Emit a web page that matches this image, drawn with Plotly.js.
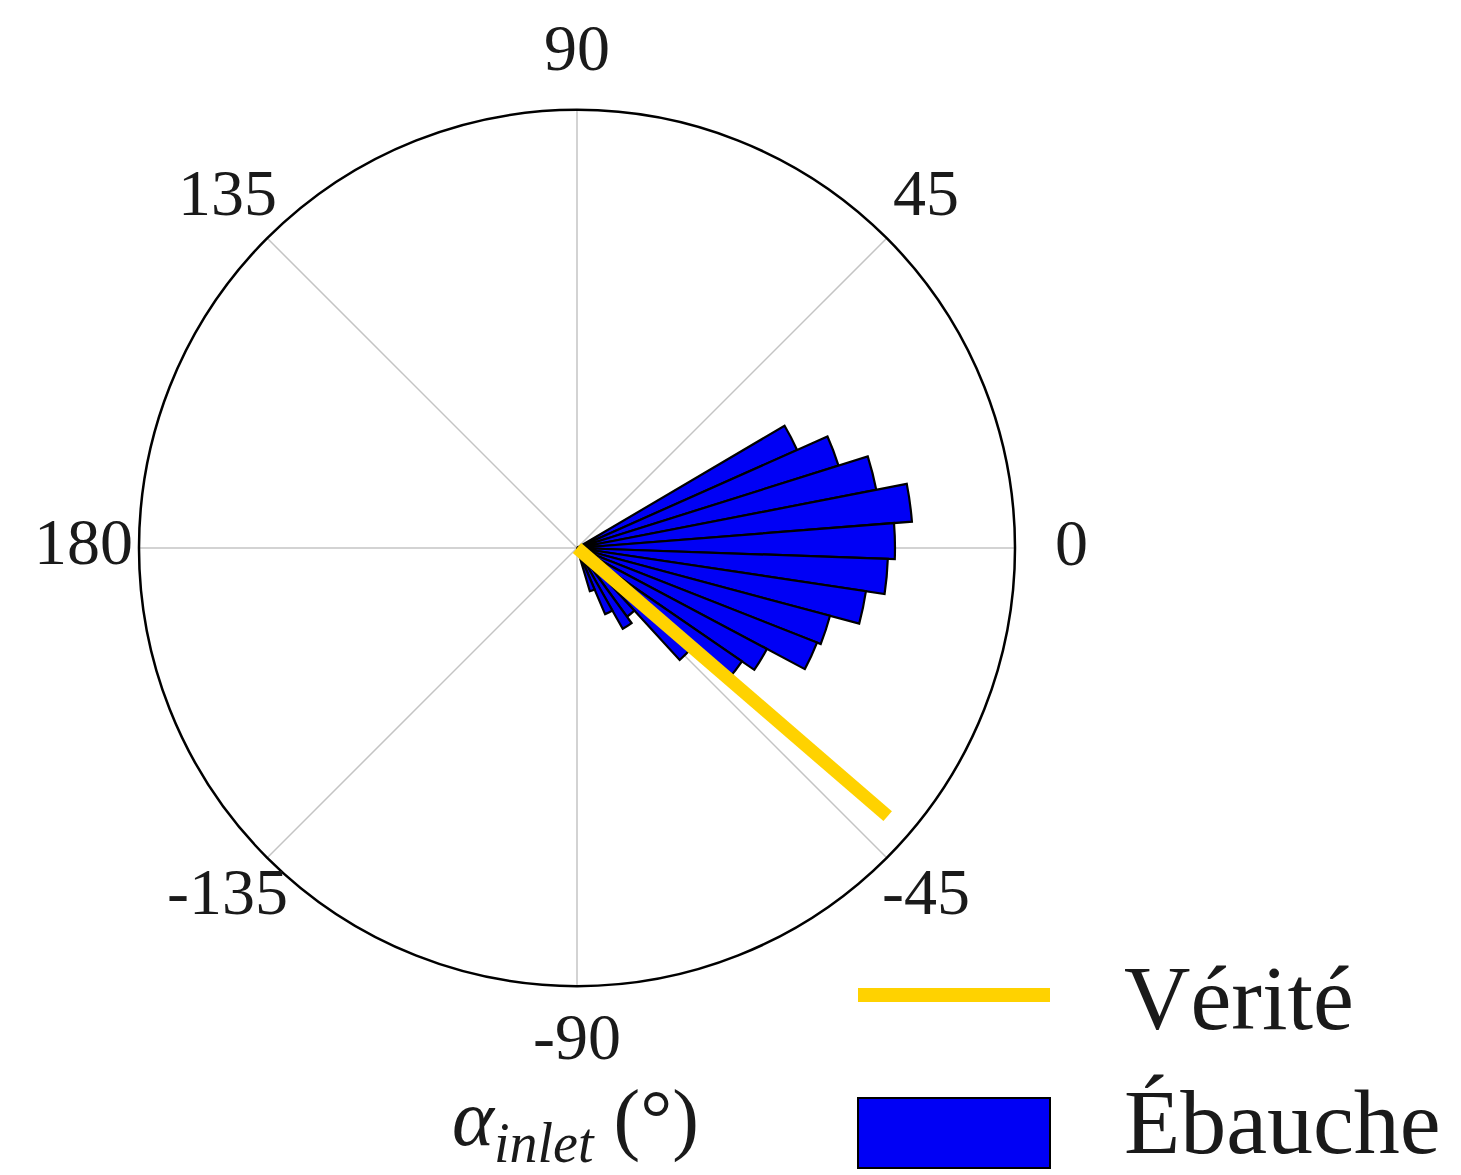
<!DOCTYPE html>
<html>
<head>
<meta charset="utf-8">
<script src="https://cdn.plot.ly/plotly-3.0.1.min.js"></script>
<style>html,body{margin:0;padding:0;background:#fff;}#chart{width:1461px;height:1175px;}</style>
</head>
<body>
<div id="chart"></div>
<script>
// Histogram of predicted inlet angles (bin centres in degrees, normalised heights)
const binCenters = [27.25, 20.75, 14.25, 7.75, 1.25, -5.25, -11.75, -18.25, -24.75, -31.25, -37.75, -44.25, -50.75, -57.25, -63.75, -70.25];
const binValues  = [0.55, 0.626, 0.696, 0.767, 0.726, 0.71, 0.667, 0.598, 0.589, 0.491, 0.457, 0.347, 0.194, 0.212, 0.164, 0.103];
const binWidth = 6.5;
// Ground truth direction
const truthTheta = [-40.8, -40.8];
const truthR = [0, 0.937];
// Angular tick labels
const tickVals = [0, 45, 90, 135, 180, 225, 270, 315];
const tickText = ['0', '45', '90', '135', '180', '-135', '-90', '-45'];
const seriesNames = ['Vérité', 'Ébauche'];
const axisTitle = '<i>α</i><sub><i>inlet</i></sub> (°)';

const serif = 'Liberation Serif, Times New Roman, serif';
const W = 1461, H = 1175;
const cx = 577, cy = 548, R = 438, labelR = R + 56, labelLift = 6;

const traces = [
  {
    type: 'barpolar',
    name: seriesNames[1],
    theta: binCenters,
    r: binValues,
    width: binCenters.map(() => binWidth),
    marker: {color: '#0000f5', line: {color: '#000000', width: 2.2}},
    showlegend: false
  },
  {
    type: 'scatterpolar',
    name: seriesNames[0],
    theta: truthTheta,
    r: truthR,
    mode: 'lines',
    line: {color: '#ffd200', width: 13},
    showlegend: false
  }
];

const tickAnnotations = tickVals.map((v, i) => {
  const a = v * Math.PI / 180;
  return {
    xref: 'paper', yref: 'paper',
    x: (cx + labelR * Math.cos(a)) / W,
    y: (H - (cy - labelR * Math.sin(a) - labelLift)) / H,
    xanchor: 'center', yanchor: 'middle',
    text: tickText[i], showarrow: false,
    font: {family: serif, size: 66, color: '#1a1a1a'}
  };
});

const layout = {
  width: W, height: H,
  margin: {l: 0, r: 0, t: 0, b: 0},
  paper_bgcolor: '#ffffff',
  showlegend: false,
  font: {family: serif, color: '#1a1a1a'},
  polar: {
    domain: {x: [(cx - R)/W, (cx + R)/W], y: [(H - cy - R)/H, (H - cy + R)/H]},
    bgcolor: '#ffffff',
    bargap: 0,
    radialaxis: {range: [0, 1], visible: false, showgrid: false},
    angularaxis: {
      rotation: 0,
      direction: 'counterclockwise',
      tickmode: 'array',
      tickvals: tickVals,
      ticktext: tickText,
      showticklabels: false,
      ticks: '',
      showline: true,
      linecolor: '#000000',
      linewidth: 2.5,
      showgrid: true,
      gridcolor: '#c4c4c4',
      gridwidth: 1.5,
      layer: 'above traces'
    }
  },
  shapes: [
    {type: 'line', xref: 'paper', yref: 'paper', x0: 858/W, x1: 1050/W, y0: (H-995)/H, y1: (H-995)/H,
     line: {color: '#ffd200', width: 14}},
    {type: 'rect', xref: 'paper', yref: 'paper', x0: 858/W, x1: 1050/W, y0: (H-1168)/H, y1: (H-1098)/H,
     fillcolor: '#0000f5', line: {color: '#000000', width: 2}}
  ],
  annotations: tickAnnotations.concat([
    {xref: 'paper', yref: 'paper', x: 1122/W, y: (H-998)/H, xanchor: 'left', yanchor: 'middle',
     text: seriesNames[0], showarrow: false, font: {family: serif, size: 92, color: '#1a1a1a'}},
    {xref: 'paper', yref: 'paper', x: 1122/W, y: (H-1122)/H, xanchor: 'left', yanchor: 'middle',
     text: seriesNames[1], showarrow: false, font: {family: serif, size: 92, color: '#1a1a1a'}},
    {xref: 'paper', yref: 'paper', x: 575/W, y: (H-1124)/H, xanchor: 'center', yanchor: 'middle',
     text: axisTitle, showarrow: false, font: {family: serif, size: 80, color: '#1a1a1a'}}
  ])
};

Plotly.newPlot('chart', traces, layout, {staticPlot: true, displayModeBar: false});
</script>
</body>
</html>
